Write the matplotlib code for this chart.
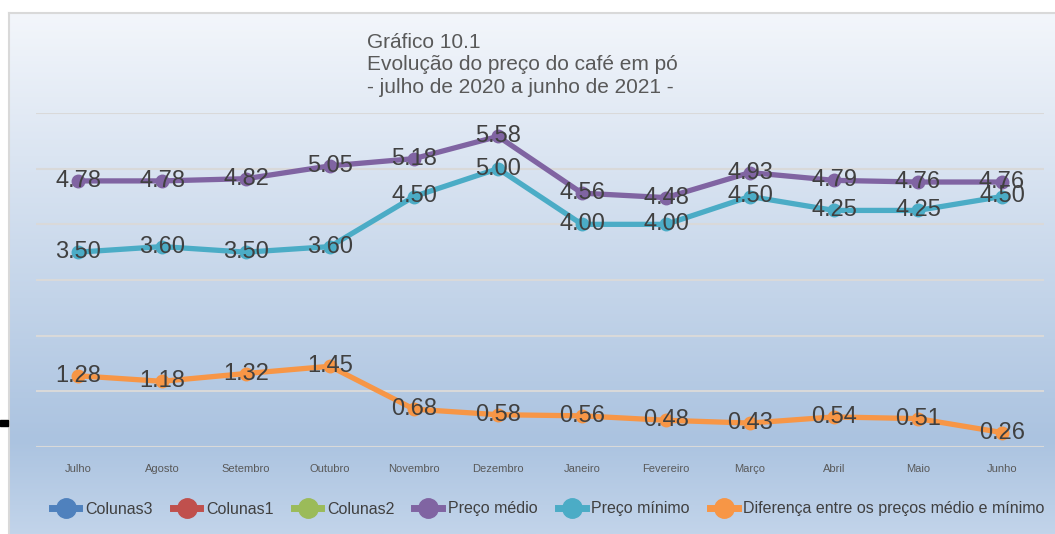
import numpy as np
import matplotlib
matplotlib.use("Agg")
import matplotlib.pyplot as plt
from matplotlib.colors import LinearSegmentedColormap
from matplotlib.lines import Line2D
from matplotlib.patches import Rectangle

plt.rcParams['font.family'] = ['Liberation Sans', 'DejaVu Sans']

# data
meses = ["Julho", "Agosto", "Setembro", "Outubro", "Novembro", "Dezembro",
         "Janeiro", "Fevereiro", "Março", "Abril", "Maio", "Junho"]
preco_medio = [4.78, 4.78, 4.82, 5.05, 5.18, 5.58, 4.56, 4.48, 4.93, 4.79, 4.76, 4.76]
preco_minimo = [3.50, 3.60, 3.50, 3.60, 4.50, 5.00, 4.00, 4.00, 4.50, 4.25, 4.25, 4.50]
diferenca = [1.28, 1.18, 1.32, 1.45, 0.68, 0.58, 0.56, 0.48, 0.43, 0.54, 0.51, 0.26]

titulo = "Gráfico 10.1\nEvolução do preço do café em pó\n- julho de 2020 a junho de 2021 -"

W, H = 1055, 534
fig = plt.figure(figsize=(W / 100, H / 100), dpi=100)
fig.patch.set_facecolor("white")

# background gradient of the chart area
bg = fig.add_axes([0, 0, 1, 1], zorder=0)
bg.set_xlim(0, W)
bg.set_ylim(H, 0)
bg.axis("off")
cmap = LinearSegmentedColormap.from_list(
    "fundo", [(0.0, "#f3f6fb"), (0.82, "#abc3e0"), (1.0, "#c2d4ea")])
grad = np.linspace(0, 1, 256).reshape(-1, 1)
bg.imshow(grad, cmap=cmap, aspect="auto", extent=[9, W, H, 13], zorder=0)
bg.plot([8.5, 8.5], [13, H], color="#d9d9d9", lw=1.5, zorder=1)
bg.plot([8.5, W], [12.5, 12.5], color="#d9d9d9", lw=1.5, zorder=1)
bg.add_patch(Rectangle((0, 420), 8, 6, color="black", zorder=2))

# plot area
x0, x1 = 36, 1044
y_top, y_bot = 113, 447
ax = fig.add_axes([x0 / W, 1 - y_bot / H, (x1 - x0) / W, (y_bot - y_top) / H], zorder=2)
ax.patch.set_alpha(0)
ax.set_xlim(-0.5, 11.5)
ax.set_ylim(0, 6)
for s in ax.spines.values():
    s.set_visible(False)
ax.set_yticks([])
ax.set_xticks(range(len(meses)))
ax.set_xticklabels(meses, fontsize=8, color="#595959")
ax.tick_params(axis="x", length=0, pad=12)
for v in range(7):
    ax.axhline(v, color="#d9d9d9", lw=1.5, zorder=1)

x = np.arange(len(meses))
series = [
    (preco_medio, "#8064a2"),
    (preco_minimo, "#4bacc6"),
    (diferenca, "#f79646"),
]
for vals, cor in series:
    ax.plot(x, vals, color=cor, lw=3.8, marker="o", markersize=9, zorder=3,
            solid_joinstyle="round")
    for xi, v in zip(x, vals):
        ax.text(xi, v, f"{v:.2f}", ha="center", va="center", fontsize=17,
                color="#404040", zorder=4)

fig.text(367 / W, 1 - 33 / H, titulo, ha="left", va="top", fontsize=15,
         color="#595959", linespacing=1.22)

# legend
nomes = ["Colunas3", "Colunas1", "Colunas2", "Preço médio", "Preço mínimo",
         "Diferença entre os preços médio e mínimo"]
cores = ["#4f81bd", "#c0504d", "#9bbb59", "#8064a2", "#4bacc6", "#f79646"]
handles = [Line2D([0], [0], color=c, lw=5, marker="o", markersize=14) for c in cores]
fig.legend(handles, nomes, loc="center", bbox_to_anchor=(548 / W, 1 - 509 / H),
           ncol=6, frameon=False, fontsize=11.5, handlelength=1.75,
           handletextpad=0.35, columnspacing=1.25, labelcolor="#404040")

fig.savefig("out.png", dpi=100)
